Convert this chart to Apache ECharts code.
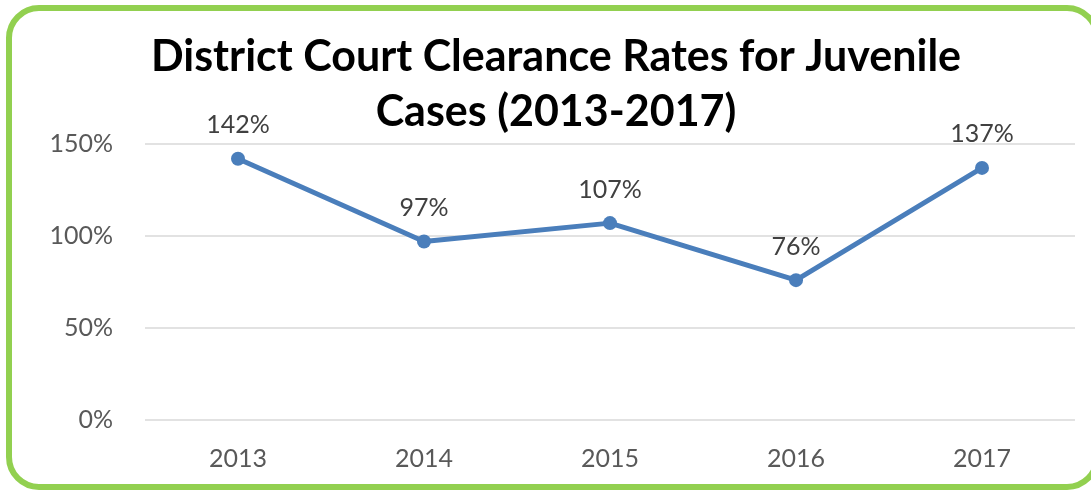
<!DOCTYPE html>
<html>
<head>
<meta charset="utf-8">
<script src="https://cdn.jsdelivr.net/npm/echarts@6/dist/echarts.min.js"></script>
<style>
html,body{margin:0;padding:0;background:#fff;}
#c{width:1091px;height:490px;}
</style>
</head>
<body>
<div id="c"></div>
<script>
var categories = ['2013', '2014', '2015', '2016', '2017'];
var clearanceRates = [142, 97, 107, 76, 137];
var yTicks = [0, 50, 100, 150];

var chart = echarts.init(document.getElementById('c'), null, {renderer: 'canvas'});
var font = 'Lato, "Open Sans", sans-serif';
chart.setOption({
  backgroundColor: '#ffffff',
  animation: false,
  title: {
    text: 'District Court Clearance Rates for Juvenile\nCases (2013-2017)',
    left: 551,
    textAlign: 'center',
    top: 25,
    textStyle: {
      fontFamily: font,
      fontWeight: 'bold',
      fontSize: 43,
      lineHeight: 55,
      color: '#000000'
    }
  },
  graphic: [{
    type: 'rect',
    shape: {x: 9, y: 8, width: 1088, height: 479, r: 30},
    style: {fill: 'none', stroke: '#92D050', lineWidth: 6},
    z: 100
  }],
  grid: {left: 145, right: 16, top: 144, bottom: 70, containLabel: false},
  xAxis: {
    type: 'category',
    data: categories,
    boundaryGap: true,
    axisLine: {show: false},
    axisTick: {show: false},
    axisLabel: {
      margin: 26,
      fontFamily: font,
      fontSize: 25,
      color: '#595959'
    }
  },
  yAxis: {
    type: 'value',
    min: yTicks[0],
    max: yTicks[yTicks.length - 1],
    interval: 50,
    axisLine: {show: false},
    axisTick: {show: false},
    splitLine: {lineStyle: {color: '#D9D9D9', width: 1.5}},
    axisLabel: {
      margin: 32,
      fontFamily: font,
      fontSize: 25,
      color: '#595959',
      formatter: function (v) { return v + '%'; }
    }
  },
  series: [{
    type: 'line',
    data: clearanceRates,
    symbol: 'circle',
    symbolSize: 14,
    lineStyle: {color: '#4A7EBB', width: 5},
    itemStyle: {color: '#4A7EBB'},
    label: {
      show: true,
      position: 'top',
      distance: 14,
      fontFamily: font,
      fontSize: 25,
      color: '#404040',
      formatter: function (p) { return p.value + '%'; }
    }
  }]
});
</script>
</body>
</html>
